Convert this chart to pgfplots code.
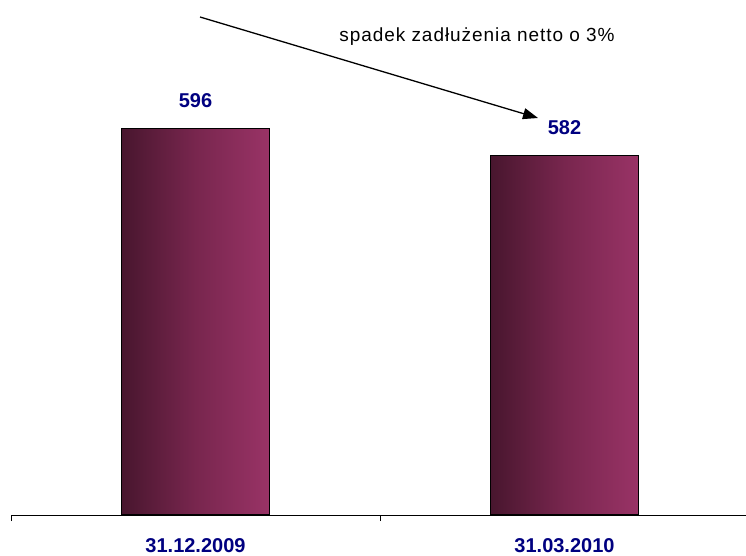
\documentclass[border=0pt]{standalone}
\usepackage{pgfplots}
\pgfplotsset{compat=1.18}
\usepackage{fontspec}
\usetikzlibrary{arrows.meta}
\setmainfont{Liberation Sans}
\newfontfamily\spacedfont[LetterSpace=5]{Liberation Sans}
\definecolor{navylbl}{RGB}{0,0,128}
\definecolor{bardark}{RGB}{72,22,46}
\definecolor{barmid}{RGB}{120,38,78}
\definecolor{barlight}{RGB}{153,51,102}
\begin{document}
\begin{tikzpicture}[x=1pt,y=1pt]
\useasboundingbox (0,0) rectangle (746,555);
\begin{axis}[
  at={(11pt,40pt)}, anchor=south west,
  scale only axis, width=738pt, height=513.2pt,
  xmin=-0.5, xmax=1.5, ymin=400, ymax=660,
  enlargelimits=false,
  /pgf/number format/assume math mode=true,
  axis x line=bottom, axis y line=none,
  axis line style={black, line width=1pt, -},
  xtick={0,1}, xticklabels={31.12.2009,31.03.2010},
  minor xtick={-0.5,0.5,1.5},
  major tick length=0pt, minor tick length=6pt, tick align=outside,
  tick style={black, line width=1pt},
  xticklabel style={font=\fontsize{20}{24}\selectfont\bfseries, text=navylbl, inner sep=0pt, yshift=-23pt},
  ytick=\empty,
  ybar, bar width=148pt, bar shift=0pt,
  nodes near coords,
  nodes near coords style={font=\fontsize{20}{24}\selectfont\bfseries, text=navylbl, inner sep=0pt, anchor=south, yshift=20pt},
]
\addplot[draw=black, line width=1.2pt, left color=bardark, right color=barlight, middle color=barmid] coordinates {(0,596)};
\addplot[draw=black, line width=1.2pt, left color=bardark, right color=barlight, middle color=barmid] coordinates {(1,582)};
\end{axis}
\draw[line width=1.3pt, -{Triangle[length=15pt,width=11pt]}] (200,538) -- (538,437);
\node[anchor=base, inner sep=0pt, font=\spacedfont\fontsize{19}{23}\selectfont] at (477,513) {spadek zadłużenia netto o 3\%};
\end{tikzpicture}
\end{document}
